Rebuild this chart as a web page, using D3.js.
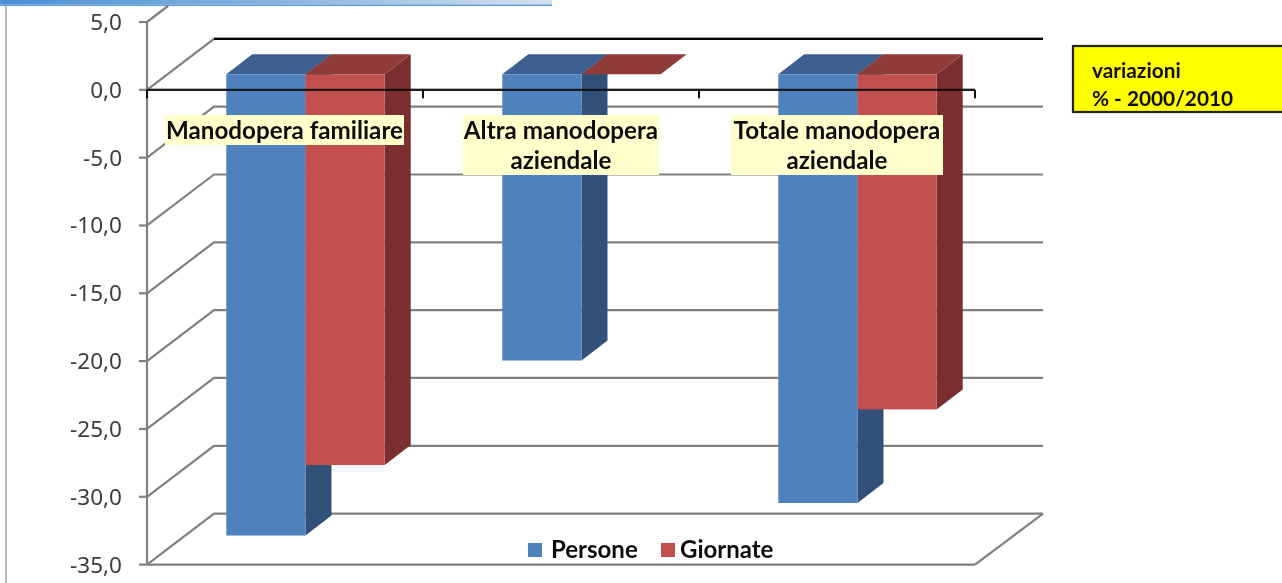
<!DOCTYPE html>
<html><head><meta charset="utf-8">
<script src="https://cdn.jsdelivr.net/npm/d3@7"></script>
<style>html,body{margin:0;padding:0;background:#fff;overflow:hidden}svg{display:block}</style>
</head><body><svg id="c" width="1282" height="583"></svg>
<script>
const categories = ["Manodopera familiare", "Altra manodopera aziendale", "Totale manodopera aziendale"];
const categoryLines = [["Manodopera familiare"], ["Altra manodopera", "aziendale"], ["Totale manodopera", "aziendale"]];
const seriesNames = ["Persone", "Giornate"];
const persone = [-34.0, -21.1, -31.6];
const giornate = [-28.8, 0.0, -24.7];
const yTicks = [5, 0, -5, -10, -15, -20, -25, -30, -35];
const noteLines = ["variazioni", "% - 2000/2010"];

const faces = {
  Persone: {front:"#4f81bd", top:"#3c6190", side:"#325178"},
  Giornate:{front:"#c0504d", top:"#8f3a38", side:"#7a2f2d"}
};
const svg = d3.select("#c");
const defs = svg.append("defs");
defs.append("filter").attr("id","soft").append("feGaussianBlur").attr("stdDeviation",0.6);
const root = svg.append("g").attr("filter","url(#soft)");

const y = d3.scaleLinear().domain([5,-35]).range([22,564.6]);
const x = d3.scaleBand().domain(categories).range([147,975]);
const inner = d3.scaleBand().domain(seriesNames).range([0,158.4]);
const depth = {dx:67, dy:-51};
const bar = {dx0:20.5, dy0:-15.5, dx:26, dy:-20};
const fmt = v => d3.format(".1f")(v).replace(".",",").replace("−","-");

// window chrome remnants
root.append("rect").attr("x",0).attr("y",0).attr("width",552).attr("height",4.5)
  .attr("fill",(()=>{const g=defs.append("linearGradient").attr("id","strip");
    g.append("stop").attr("offset",0).attr("stop-color","#4a8fd6");
    g.append("stop").attr("offset",0.55).attr("stop-color","#8fb8e0");
    g.append("stop").attr("offset",1).attr("stop-color","#d6e2ee");return "url(#strip)";})());
root.append("rect").attr("x",0).attr("y",4.5).attr("width",552).attr("height",1.5).attr("fill","#5b9bd8");
root.append("line").attr("x1",6).attr("x2",6).attr("y1",6).attr("y2",583).attr("stroke","#a8a8a8").attr("stroke-width",1.6);

// walls and grid
const grid = root.append("g").attr("stroke","#808080").attr("stroke-width",2.2).attr("fill","none");
const clipTop = 6;
yTicks.forEach(t=>{
  const yy=y(t);
  if(t===5){
    grid.append("line").attr("x1",147).attr("y1",yy).attr("x2",147+(yy-clipTop)/51*67).attr("y2",clipTop);
  } else {
    grid.append("polyline").attr("points",[[147,yy],[147+depth.dx,yy+depth.dy],[1043,yy+depth.dy]].map(p=>p.join(",")).join(" "));
  }
  grid.append("line").attr("x1",139).attr("x2",147).attr("y1",yy).attr("y2",yy);
});
grid.append("line").attr("x1",147).attr("x2",147).attr("y1",y(5)).attr("y2",y(-35));
grid.append("line").attr("x1",147).attr("x2",975).attr("y1",y(-35)).attr("y2",y(-35));
grid.append("line").attr("x1",975).attr("x2",1043).attr("y1",y(-35)).attr("y2",y(-35)+depth.dy);
grid.append("line").attr("x1",147).attr("x2",975).attr("y1",y(0)).attr("y2",y(0));

root.append("line").attr("x1",214).attr("x2",1043).attr("y1",y(0)+depth.dy).attr("y2",y(0)+depth.dy)
  .attr("stroke","#000").attr("stroke-width",2.4);

// tick labels
root.append("g").selectAll("text").data(yTicks).join("text")
  .attr("x",122).attr("y",d=>y(d)+8).attr("text-anchor","end")
  .attr("font-family","'Noto Sans'").attr("font-size",22.5).attr("fill","#3c3c3c")
  .text(fmt);

// bars
const rows = categories.map((c,i)=>[{c,s:"Persone",v:persone[i]},{c,s:"Giornate",v:giornate[i]}]).flat();
const bars = root.append("g");
rows.forEach(d=>{
  const x0 = x(d.c)+ (x.bandwidth()-158.4)/2 + inner(d.s) + bar.dx0;
  const x1 = x0 + inner.bandwidth();
  const t = y(0)+bar.dy0, b = y(d.v)+bar.dy0;
  const f = faces[d.s], g = bars.append("g");
  if(b-t>0.5){
    g.append("path").attr("fill",f.side).attr("d",`M${x1},${t}L${x1+bar.dx},${t+bar.dy}L${x1+bar.dx},${b+bar.dy}L${x1},${b}Z`);
    g.append("rect").attr("x",x0).attr("y",t).attr("width",x1-x0).attr("height",b-t).attr("fill",f.front);
  }
  g.append("path").attr("fill",f.top).attr("d",`M${x0},${t}L${x0+bar.dx},${t+bar.dy}L${x1+bar.dx},${t+bar.dy}L${x1},${t}Z`);
});

// category axis drawn over bars
const ax = root.append("g").attr("stroke","#0a0a0a").attr("fill","none");
ax.append("line").attr("x1",147).attr("x2",975).attr("y1",y(0)).attr("y2",y(0)).attr("stroke-width",2.2).attr("stroke-opacity",0.85);
[...categories.map(c=>x(c)), 975].forEach(v=>
  ax.append("line").attr("x1",v).attr("x2",v).attr("y1",y(0)).attr("y2",y(0)+8.5).attr("stroke-width",2));

// category labels
const boxes = [[165,115,239,30],[463,115,196,60],[731,115,212,60]];
const labels = root.append("g").attr("font-family","Lato").attr("font-weight",700).attr("font-size",24.2).attr("fill","#111").attr("text-anchor","middle");
categoryLines.forEach((ls,i)=>{
  const [bx,by,bw,bh]=boxes[i];
  labels.append("rect").attr("x",bx).attr("y",by).attr("width",bw).attr("height",bh).attr("fill","#ffffcc");
  ls.forEach((l,j)=>labels.append("text").attr("x",bx+bw/2).attr("y",by+24+j*30).text(l));
});

// note box
root.append("rect").attr("x",1073).attr("y",46).attr("width",215).attr("height",66).attr("fill","#ffff00").attr("stroke","#222").attr("stroke-width",2.2);
root.append("g").attr("font-family","Lato").attr("font-weight",700).attr("font-size",20.8).attr("fill","#111")
  .selectAll("text").data(noteLines).join("text").attr("x",1092).attr("y",(d,i)=>78+i*28).text(d=>d);

// legend
const legendSwatchX = [528,661], legendTextX = [551,680];
seriesNames.forEach((s,i)=>{
  root.append("rect").attr("x",legendSwatchX[i]).attr("y",543).attr("width",14).attr("height",14).attr("fill",faces[s].front);
  root.append("text").attr("x",legendTextX[i]).attr("y",558).attr("font-family","Lato").attr("font-weight",700).attr("font-size",24).attr("fill","#111").text(s);
});
</script></body></html>
